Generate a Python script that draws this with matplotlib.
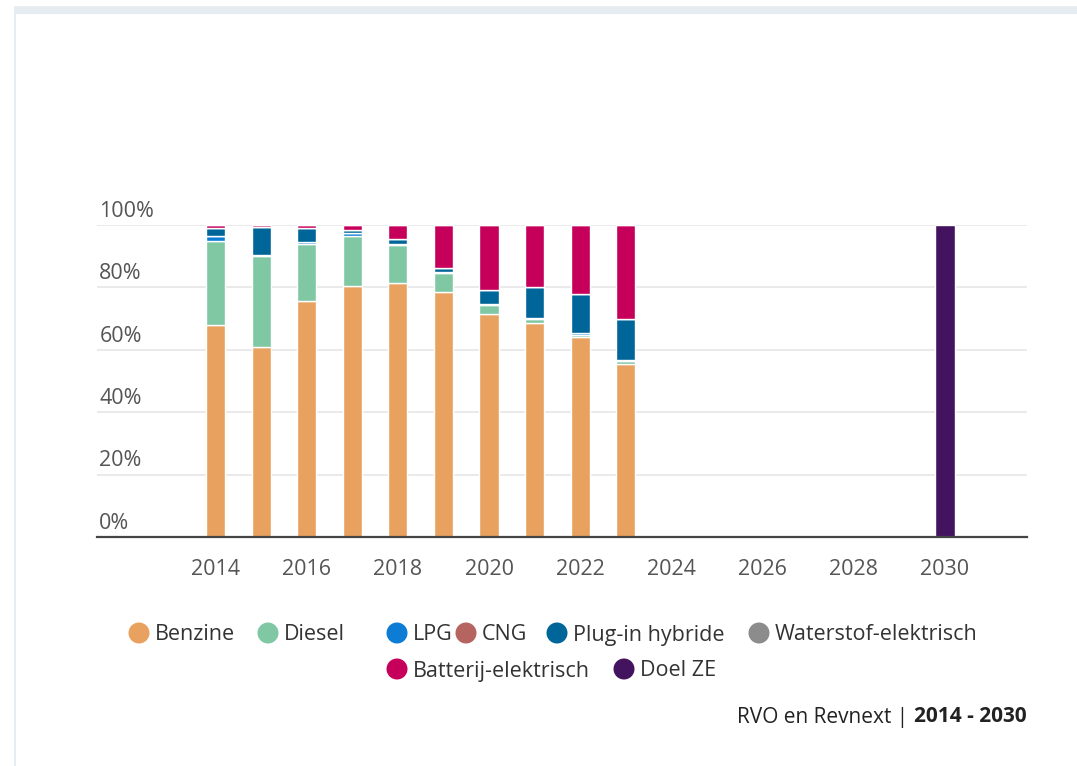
import numpy as np
import matplotlib
matplotlib.use("Agg")
import matplotlib.pyplot as plt
from matplotlib.patches import Rectangle, Circle

plt.rcParams["font.family"] = ["Open Sans", "DejaVu Sans"]

# share of new passenger cars per fuel type (%)
years = [2014, 2015, 2016, 2017, 2018, 2019, 2020, 2021, 2022, 2023, 2030]
benzine = [68, 61, 75.5, 80.5, 81.5, 78.5, 71.5, 68.5, 64, 55.5, 0]
diesel = [27, 29, 18.5, 16, 12, 6, 3, 1.5, 0.8, 0.8, 0]
lpg = [1.5, 0.5, 0.5, 1, 0.5, 0.5, 0.3, 0.3, 0.5, 0.5, 0]
cng = [0, 0, 0, 0, 0, 0, 0, 0, 0, 0, 0]
phev = [2.5, 9, 4.5, 1, 1.5, 1.2, 4.5, 9.9, 12.5, 13, 0]
waterstof = [0, 0, 0, 0, 0, 0, 0, 0, 0, 0, 0]
bev = [1, 0.5, 1, 1.5, 4.5, 13.8, 20.7, 19.8, 22.2, 30.2, 0]
doel_ze = [0, 0, 0, 0, 0, 0, 0, 0, 0, 0, 100]

series = ["Benzine", "Diesel", "LPG", "CNG", "Plug-in hybride",
          "Waterstof-elektrisch", "Batterij-elektrisch", "Doel ZE"]
values = [benzine, diesel, lpg, cng, phev, waterstof, bev, doel_ze]
colors = ["#e8a15f", "#80c8a4", "#0c7cd5", "#b5645f", "#00669a",
          "#8c8c8c", "#c6005a", "#44135f"]

xticks = [2014, 2016, 2018, 2020, 2022, 2024, 2026, 2028, 2030]
yticks = [0, 20, 40, 60, 80, 100]

W, H = 1077, 766
fig = plt.figure(figsize=(W / 100, H / 100), dpi=100)
fig.patch.set_facecolor("white")

# overlay in pixel coords for card frame and legend
ov = fig.add_axes([0, 0, 1, 1])
ov.set_xlim(0, W)
ov.set_ylim(H, 0)
ov.axis("off")
ov.add_patch(Rectangle((14, 6), W - 14, 8, color="#e5edf2", lw=0))
ov.add_patch(Rectangle((14, 6), 2, H - 6, color="#e5edf2", lw=0))

ax = fig.add_axes([97 / W, 1 - 537 / H, (1027 - 97) / W, 312 / H])
ax.set_facecolor("none")

bottom = np.zeros(len(years))
for name, vals, col in zip(series, values, colors):
    vals = np.array(vals, dtype=float)
    ax.bar(years, vals, width=0.42, bottom=bottom, color=col,
           edgecolor="white", linewidth=1.0, clip_on=False, zorder=3)
    bottom += vals

fs = 15.5
ax.set_xlim(2011.4, 2031.8)
ax.set_ylim(0, 100)
ax.set_xticks(xticks)
ax.set_xticklabels([str(x) for x in xticks], fontsize=fs, color="#555555")
ax.tick_params(axis="x", length=0, pad=16)
ax.set_yticks(yticks)
ax.set_yticklabels([])
ax.tick_params(axis="y", length=0)
for y in yticks:
    ax.axhline(y, color="#e6e6e6", lw=1.2, zorder=1)
    ax.text(2011.45, y + 1.0, f"{y}%", fontsize=fs, color="#555555",
            ha="left", va="bottom")
for s in ["top", "right", "left"]:
    ax.spines[s].set_visible(False)
ax.spines["bottom"].set_color("#444444")
ax.spines["bottom"].set_linewidth(1.6)
ax.spines["bottom"].set_zorder(4)

# legend
leg_pos = [(139, 633), (268, 633), (397, 633), (466, 633), (557, 633),
           (759, 633), (397, 669), (624, 669)]
for (cx, cy), name, col in zip(leg_pos, series, colors):
    ov.add_patch(Circle((cx, cy), 10.5, color=col, lw=0))
    ov.text(cx + 16, cy + 2, name, fontsize=fs, color="#333333",
            ha="left", va="center")

# source line, bold part right aligned
bold = ov.text(1027, 717, "2014 - 2030", fontsize=15, color="#222222",
               ha="right", va="center", fontweight="bold")
fig.canvas.draw()
bb = bold.get_window_extent()
ov.text(bb.x0 - 1, 717, "RVO en Revnext | ", fontsize=15,
        color="#222222", ha="right", va="center")

fig.savefig("out.png", dpi=100, facecolor="white")
